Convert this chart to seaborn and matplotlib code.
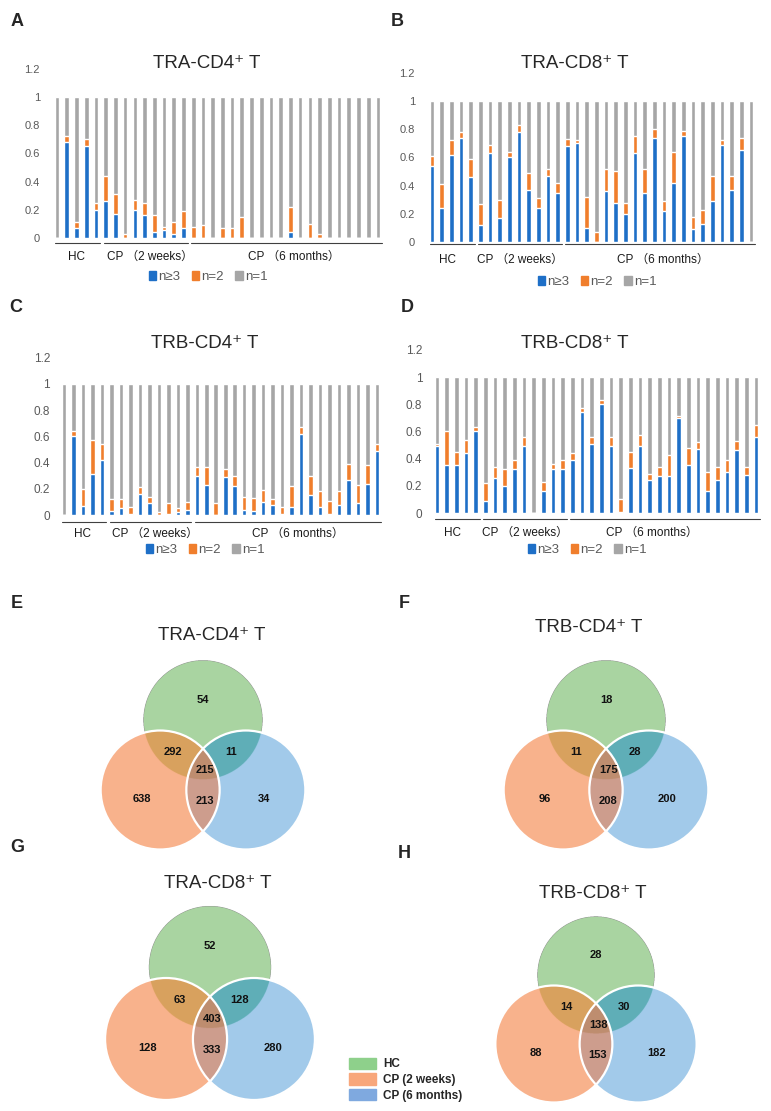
"""
plot.py - clonotype expansion bars (A-D) and shared-clone Venn diagrams (E-H)
"""
import matplotlib

matplotlib.use("Agg")
import matplotlib.pyplot as plt
import matplotlib.transforms as mtransforms
import numpy as np
import pandas as pd
import seaborn as sns
from matplotlib.patches import Circle, Patch

W, H = 771, 1111

BLUE = "#1E6FC7"
ORANGE = "#F07E2C"
GREY = "#A6A6A6"

GROUPS = ["HC", "CP （2 weeks）", "CP （6 months）"]
GROUP_SIZES = [5, 9, 20]

# fraction of clonotypes with n>=3 and n=2 cells per sample (rest is n=1)
A_n3 = [0.00, 0.68, 0.07, 0.65, 0.20, 0.26, 0.17, 0.00, 0.20, 0.16, 0.04, 0.06,
        0.03, 0.07, 0.00, 0.00, 0.00, 0.00, 0.00, 0.00, 0.00, 0.00, 0.00, 0.00,
        0.04, 0.00, 0.00, 0.00, 0.00, 0.00, 0.00, 0.00, 0.00, 0.00]
A_n2 = [0.00, 0.04, 0.04, 0.05, 0.05, 0.18, 0.14, 0.03, 0.07, 0.09, 0.12, 0.02,
        0.08, 0.12, 0.08, 0.09, 0.00, 0.07, 0.07, 0.15, 0.00, 0.00, 0.00, 0.00,
        0.18, 0.00, 0.10, 0.03, 0.00, 0.00, 0.00, 0.00, 0.00, 0.00]

B_n3 = [0.54, 0.24, 0.62, 0.74, 0.46, 0.12, 0.63, 0.17, 0.60, 0.78, 0.37, 0.24,
        0.47, 0.35, 0.68, 0.70, 0.10, 0.00, 0.36, 0.28, 0.20, 0.63, 0.35, 0.74,
        0.22, 0.42, 0.75, 0.09, 0.13, 0.29, 0.69, 0.37, 0.65, 0.00]
B_n2 = [0.07, 0.17, 0.10, 0.04, 0.13, 0.15, 0.06, 0.13, 0.04, 0.05, 0.12, 0.07,
        0.05, 0.07, 0.05, 0.02, 0.22, 0.07, 0.16, 0.22, 0.08, 0.12, 0.17, 0.06,
        0.07, 0.22, 0.04, 0.09, 0.10, 0.18, 0.03, 0.10, 0.09, 0.00]

C_n3 = [0.00, 0.60, 0.07, 0.31, 0.42, 0.03, 0.05, 0.01, 0.16, 0.09, 0.00, 0.01,
        0.02, 0.04, 0.30, 0.23, 0.00, 0.29, 0.22, 0.04, 0.03, 0.10, 0.08, 0.01,
        0.06, 0.62, 0.15, 0.06, 0.01, 0.08, 0.27, 0.09, 0.24, 0.49]
C_n2 = [0.00, 0.04, 0.13, 0.26, 0.12, 0.09, 0.07, 0.05, 0.05, 0.05, 0.02, 0.08,
        0.03, 0.06, 0.07, 0.14, 0.09, 0.06, 0.08, 0.10, 0.10, 0.09, 0.04, 0.05,
        0.16, 0.05, 0.15, 0.12, 0.10, 0.10, 0.12, 0.14, 0.14, 0.05]

D_n3 = [0.49, 0.35, 0.35, 0.44, 0.60, 0.09, 0.26, 0.20, 0.32, 0.49, 0.00, 0.16,
        0.32, 0.32, 0.39, 0.74, 0.51, 0.80, 0.49, 0.01, 0.33, 0.49, 0.24, 0.27,
        0.27, 0.70, 0.35, 0.47, 0.16, 0.24, 0.30, 0.46, 0.28, 0.56]
D_n2 = [0.02, 0.25, 0.10, 0.10, 0.03, 0.13, 0.08, 0.12, 0.07, 0.07, 0.00, 0.07,
        0.04, 0.07, 0.05, 0.03, 0.05, 0.03, 0.07, 0.09, 0.12, 0.08, 0.05, 0.07,
        0.16, 0.01, 0.13, 0.05, 0.14, 0.10, 0.09, 0.07, 0.06, 0.09]

Y_TICKS = [0, 0.2, 0.4, 0.6, 0.8, 1.0, 1.2]

# Venn region counts: HC only, HC&2w, HC&6m, all three, 2w only, 2w&6m, 6m only
VENN_E = [54, 292, 11, 215, 638, 213, 34]
VENN_F = [18, 11, 28, 175, 96, 208, 200]
VENN_G = [52, 63, 128, 403, 128, 333, 280]
VENN_H = [28, 14, 30, 138, 88, 153, 182]

VENN_LEGEND = ["HC", "CP (2 weeks)", "CP (6 months)"]

REGION_COLORS = {
    1: "#A9D5A1",  # HC
    2: "#F9B28C",  # CP 2w
    4: "#A2CBEA",  # CP 6m
    3: "#D9A15E",
    5: "#5FAEB8",
    6: "#CD9D8D",
    7: "#BF8D6F",
}


def px_axes(fig, left, top, right, bottom):
    return fig.add_axes([left / W, 1 - bottom / H, (right - left) / W, (bottom - top) / H])


def fig_text(fig, x, y, s, **kw):
    fig.text(x / W, 1 - y / H, s, **kw)


def plot_bars(fig, n3, n2, box, title, title_xy, tick_size, tick_pad,
              line_off, label_off, legend_off, label_x, legend_x):
    left, top, right, bottom = box
    ax = px_axes(fig, left, top, right, bottom)
    n = len(n3)
    n3 = np.array(n3)
    n2 = np.array(n2)
    n1 = 1 - n3 - n2
    df = pd.DataFrame({"sample": np.arange(n), "n3": n3, "n2": n2, "n1": n1})
    # layered bars: full stack first, then the lower segments on top
    for y, color in [(df.n3 + df.n2 + df.n1, GREY), (df.n3 + df.n2, ORANGE), (df.n3, BLUE)]:
        sns.barplot(x=df["sample"], y=y, color=color, width=0.48, saturation=1,
                    errorbar=None, ax=ax)

    ax.set_xlim(-0.6, n - 0.4)
    ax.set_ylim(0, 1.2)
    ax.set_yticks(Y_TICKS)
    ax.set_yticklabels([f"{v:g}" for v in Y_TICKS])
    ax.set_xticks([])
    ax.set_xlabel("")
    ax.set_ylabel("")
    ax.tick_params(axis="y", length=0, labelsize=tick_size, labelcolor="#595959", pad=tick_pad)
    for sp in ax.spines.values():
        sp.set_visible(False)

    h_px = bottom - top
    trans = mtransforms.blended_transform_factory(ax.transData, ax.transAxes)
    start = 0
    for name, size, lx in zip(GROUPS, GROUP_SIZES, label_x):
        end = start + size - 1
        lo = start - 0.2
        hi = end + 0.42
        ax.plot([lo, hi], [-line_off / h_px] * 2, color="#404040", lw=0.8,
                transform=trans, clip_on=False)
        ax.text(lx, -label_off / h_px, name, transform=trans, ha="center", va="center",
                fontsize=8.5, color="#1a1a1a")
        start += size

    handles = [Patch(color=BLUE, label="n≥3"), Patch(color=ORANGE, label="n=2"),
               Patch(color=GREY, label="n=1")]
    leg = ax.legend(handles=handles, loc="center",
                    bbox_to_anchor=((legend_x - left) / (right - left), -legend_off / h_px),
                    ncol=3, frameon=False, handlelength=0.55, handleheight=0.75,
                    handletextpad=0.15, columnspacing=0.9, fontsize=9.5, borderaxespad=0)
    for t in leg.get_texts():
        t.set_color("#595959")
    fig_text(fig, title_xy[0], title_xy[1], title, ha="center", va="center", fontsize=13.5)
    return ax


def plot_venn(fig, counts, mid, title, title_xy, r=59.0):
    cx, cy = mid
    ax = px_axes(fig, cx - 115, cy - 135, cx + 115, cy + 75)
    x0, x1 = -115 / r, 115 / r
    y0, y1 = -75 / r, 135 / r
    ax.set_xlim(x0, x1)
    ax.set_ylim(y0, y1)
    ax.axis("off")

    d, hgt = 0.72, 1.18
    centers = {"g": (0.0, hgt), "o": (-d, 0.0), "b": (d, 0.0)}
    xs = np.linspace(x0, x1, 920)
    ys = np.linspace(y0, y1, 840)
    gx, gy = np.meshgrid(xs, ys)

    def inside(c):
        return (gx - c[0]) ** 2 + (gy - c[1]) ** 2 <= 1.0

    code = inside(centers["g"]) * 1 + inside(centers["o"]) * 2 + inside(centers["b"]) * 4
    img = np.zeros(code.shape + (4,))
    for k, col in REGION_COLORS.items():
        img[code == k] = matplotlib.colors.to_rgba(col)
    ax.imshow(img, extent=(x0, x1, y0, y1), origin="lower", interpolation="antialiased",
              zorder=1)
    for key in ("o", "b"):
        ax.add_patch(Circle(centers[key], 1.0, fill=False, ec="white", lw=1.6, zorder=2))

    label_pos = [(0.0, 1.52), (-0.50, 0.64), (0.48, 0.64), (0.04, 0.33),
                 (-1.03, -0.15), (0.03, -0.18), (1.03, -0.15)]
    for (lx, ly), val in zip(label_pos, counts):
        ax.text(lx, ly, str(val), ha="center", va="center", fontsize=8,
                fontweight="bold", color="#111111", zorder=3)
    fig_text(fig, title_xy[0], title_xy[1], title, ha="center", va="center", fontsize=13.5)


def main():
    sns.set_theme(style="white")
    plt.rcParams["font.family"] = ["Liberation Sans", "DejaVu Sans", "Noto Sans CJK SC"]

    fig = plt.figure(figsize=(W / 100, H / 100), dpi=100)

    plot_bars(fig, A_n3, A_n2, (51.2, 68.8, 383.8, 238.0), "TRA-CD4⁺ T", (207, 64),
              8, 8, 4.5, 19, 39, [2.0, 9.6, 24.3], 208)
    plot_bars(fig, B_n3, B_n2, (426.2, 72.8, 756.8, 242.0), "TRA-CD8⁺ T", (575, 64),
              8, 8, 1.5, 18, 40, [1.6, 9.1, 23.9], 597)
    plot_bars(fig, C_n3, C_n2, (58.3, 357.8, 382.7, 515.0), "TRB-CD4⁺ T", (205, 343),
              8.5, 6, 6.5, 19, 35, [2.0, 9.6, 24.7], 205)
    plot_bars(fig, D_n3, D_n2, (431.2, 349.8, 761.8, 513.0), "TRB-CD8⁺ T", (575, 343),
              8.5, 6.5, 6, 20, 37, [1.6, 9.1, 22.2], 587)

    plot_venn(fig, VENN_E, (203, 790), "TRA-CD4⁺ T", (212, 635), r=59.5)
    plot_venn(fig, VENN_F, (606, 790), "TRB-CD4⁺ T", (589, 628), r=59.5)
    plot_venn(fig, VENN_G, (210, 1039), "TRA-CD8⁺ T", (218, 883), r=61)
    plot_venn(fig, VENN_H, (596, 1044), "TRB-CD8⁺ T", (593, 893), r=58.5)

    for lab, x, y in [("A", 17, 22), ("B", 397, 22), ("C", 16, 308), ("D", 407, 308),
                      ("E", 17, 604), ("F", 404, 604), ("G", 17, 847), ("H", 404, 853)]:
        fig_text(fig, x, y, lab, ha="center", va="center", fontsize=13, fontweight="bold")

    handles = [Patch(color=c, label=l) for c, l in
               zip(["#8ED08B", "#F8A77B", "#7FA9DF"], VENN_LEGEND)]
    fig.legend(handles=handles, loc="upper left", bbox_to_anchor=(338 / W, 1 - 1047 / H),
               frameon=False, handlelength=2.3, handleheight=1.1, labelspacing=0.25,
               handletextpad=0.6, prop={"weight": "bold", "size": 8.5})

    fig.savefig("out.png", dpi=100)
    plt.close(fig)


if __name__ == "__main__":
    main()
